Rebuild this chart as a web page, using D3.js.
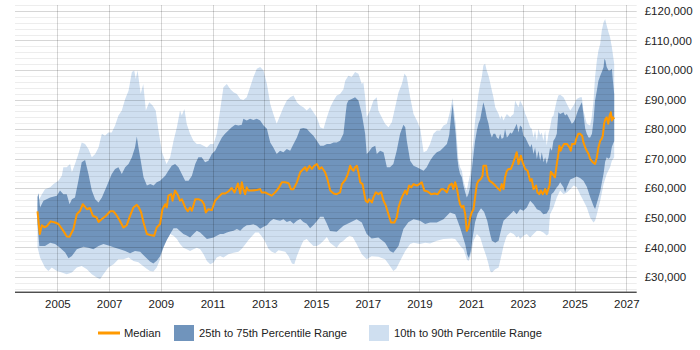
<!DOCTYPE html>
<html>
<head>
<meta charset="utf-8">
<script src="https://cdn.jsdelivr.net/npm/d3@7"></script>
<style>
  html, body { margin: 0; padding: 0; background: #fff; }
  #chart { width: 700px; height: 350px; }
  text { font-family: "Liberation Sans", Arial, sans-serif; fill: #222; }
</style>
</head>
<body>
<div id="chart"></div>
<script>
// values in £ thousands, [year, value]
const medianPts = [
  [2004.23,52.2],[2004.32,44.5],[2004.40,47.5],[2004.50,46.8],[2004.59,47.2],[2004.74,48.8],[2004.91,48.4],[2005.04,47.9],[2005.23,45.6],[2005.36,43.7],[2005.47,43.6],[2005.62,46.2],[2005.75,51.2],[2005.88,52.4],[2005.98,54.6],[2006.14,52.9],[2006.26,53.3],[2006.37,50.7],[2006.52,50.1],[2006.59,48.6],[2006.72,49.6],[2006.88,50.7],[2007.04,52.2],[2007.17,52.2],[2007.30,50.7],[2007.42,48.9],[2007.55,46.7],[2007.68,47.5],[2007.80,50.5],[2007.94,53.5],[2008.07,54.4],[2008.15,53.5],[2008.24,51.8],[2008.33,48.4],[2008.46,44.5],[2008.59,44.2],[2008.74,43.9],[2008.84,46.7],[2008.97,47.9],[2009.06,52.9],[2009.17,54.6],[2009.23,53.5],[2009.29,57.5],[2009.40,58.0],[2009.45,55.8],[2009.55,59.2],[2009.65,57.8],[2009.74,55.8],[2009.81,56.3],[2009.94,53.5],[2010.04,52.2],[2010.13,53.5],[2010.20,52.4],[2010.33,56.3],[2010.45,56.3],[2010.58,55.8],[2010.67,54.6],[2010.74,51.8],[2010.84,52.9],[2010.97,52.6],[2011.10,55.8],[2011.23,57.0],[2011.36,58.2],[2011.48,58.2],[2011.61,58.9],[2011.74,60.1],[2011.85,58.6],[2011.98,61.6],[2012.07,58.2],[2012.13,62.0],[2012.19,59.7],[2012.26,58.0],[2012.32,60.3],[2012.39,59.2],[2012.52,59.2],[2012.71,59.4],[2012.84,59.7],[2012.90,58.6],[2013.03,58.6],[2013.16,58.0],[2013.29,57.5],[2013.42,58.6],[2013.55,60.0],[2013.68,62.0],[2013.81,62.0],[2013.94,61.7],[2014.03,59.7],[2014.13,59.7],[2014.26,62.0],[2014.39,65.4],[2014.51,66.5],[2014.58,67.1],[2014.64,65.9],[2014.75,67.6],[2014.84,66.5],[2014.93,67.6],[2015.03,68.2],[2015.13,66.5],[2015.22,67.1],[2015.35,65.4],[2015.44,63.1],[2015.55,59.2],[2015.68,58.2],[2015.80,58.0],[2015.93,58.6],[2016.00,61.4],[2016.13,62.8],[2016.22,64.5],[2016.32,67.6],[2016.38,66.5],[2016.45,65.9],[2016.51,67.1],[2016.58,67.6],[2016.64,65.4],[2016.71,62.0],[2016.80,61.4],[2016.87,58.0],[2016.92,55.8],[2017.00,55.2],[2017.05,56.3],[2017.16,55.2],[2017.22,56.9],[2017.31,58.6],[2017.41,58.0],[2017.52,58.6],[2017.61,55.8],[2017.70,54.1],[2017.80,51.2],[2017.90,48.4],[2018.03,48.4],[2018.12,50.1],[2018.19,53.5],[2018.29,56.3],[2018.38,58.0],[2018.45,59.2],[2018.51,58.0],[2018.60,60.9],[2018.68,60.3],[2018.77,61.4],[2018.90,60.9],[2018.99,61.4],[2019.09,62.0],[2019.19,59.2],[2019.32,58.9],[2019.45,58.0],[2019.58,58.2],[2019.71,58.0],[2019.84,59.7],[2019.93,59.7],[2020.06,58.6],[2020.15,60.9],[2020.25,61.6],[2020.31,59.7],[2020.38,62.0],[2020.44,60.3],[2020.51,56.9],[2020.57,54.6],[2020.64,53.5],[2020.70,54.1],[2020.77,51.2],[2020.83,45.6],[2020.89,46.7],[2020.96,50.1],[2021.02,51.8],[2021.09,52.9],[2021.15,56.9],[2021.22,61.4],[2021.28,62.5],[2021.37,63.1],[2021.44,64.2],[2021.47,67.6],[2021.58,67.6],[2021.63,64.2],[2021.71,62.5],[2021.80,62.0],[2021.93,60.9],[2022.06,59.7],[2022.12,59.2],[2022.18,61.4],[2022.25,59.7],[2022.31,63.7],[2022.38,65.9],[2022.44,66.5],[2022.53,66.5],[2022.61,68.2],[2022.70,70.5],[2022.76,72.2],[2022.83,68.2],[2022.92,71.0],[2022.99,68.8],[2023.09,66.5],[2023.18,65.9],[2023.28,62.5],[2023.34,63.1],[2023.41,59.7],[2023.51,60.9],[2023.56,58.6],[2023.64,58.0],[2023.69,59.2],[2023.77,58.0],[2023.86,59.7],[2023.92,58.0],[2024.03,61.0],[2024.08,65.6],[2024.15,64.8],[2024.24,63.7],[2024.31,68.2],[2024.37,71.6],[2024.41,74.4],[2024.46,72.7],[2024.51,73.8],[2024.59,75.0],[2024.70,75.0],[2024.80,73.8],[2024.85,72.7],[2024.90,75.0],[2025.01,75.0],[2025.06,76.7],[2025.14,78.4],[2025.21,78.4],[2025.29,77.8],[2025.34,75.5],[2025.41,73.8],[2025.47,72.7],[2025.54,71.6],[2025.60,69.9],[2025.70,68.8],[2025.79,68.2],[2025.86,70.5],[2025.92,73.8],[2025.99,76.1],[2026.05,76.7],[2026.09,77.8],[2026.14,81.8],[2026.19,83.4],[2026.24,84.0],[2026.30,81.8],[2026.35,84.6],[2026.40,85.7],[2026.44,82.9],[2026.48,84.0],[2026.53,83.4]
];

const p75Pts = [
  [2004.23,57.0],[2004.27,58.3],[2004.33,53.5],[2004.46,55.8],[2004.72,56.9],[2004.98,57.5],[2005.10,59.2],[2005.23,58.0],[2005.36,58.0],[2005.47,54.6],[2005.56,56.3],[2005.68,56.9],[2005.81,62.5],[2005.94,68.8],[2006.07,69.6],[2006.20,64.8],[2006.33,59.2],[2006.46,56.3],[2006.59,55.2],[2006.72,56.9],[2006.91,60.8],[2007.10,64.8],[2007.23,66.5],[2007.36,67.1],[2007.49,64.8],[2007.62,67.1],[2007.75,68.2],[2007.88,70.5],[2008.00,73.8],[2008.07,77.5],[2008.13,74.0],[2008.20,70.5],[2008.33,63.7],[2008.46,60.9],[2008.59,61.4],[2008.72,60.9],[2008.84,62.0],[2008.97,62.5],[2009.17,64.2],[2009.29,65.9],[2009.42,67.6],[2009.55,68.2],[2009.68,67.1],[2009.81,64.8],[2009.94,62.5],[2010.07,62.5],[2010.20,64.2],[2010.33,68.2],[2010.45,70.5],[2010.58,70.5],[2010.71,68.8],[2010.84,69.3],[2010.97,71.6],[2011.10,72.7],[2011.23,75.0],[2011.36,77.2],[2011.48,78.4],[2011.61,79.5],[2011.74,80.6],[2011.87,81.5],[2012.00,81.2],[2012.13,81.5],[2012.19,83.5],[2012.32,82.9],[2012.45,83.5],[2012.58,83.1],[2012.71,83.5],[2012.84,82.9],[2012.97,81.2],[2013.10,80.1],[2013.23,75.5],[2013.35,73.8],[2013.48,71.6],[2013.61,72.7],[2013.74,72.2],[2013.87,73.3],[2014.00,72.7],[2014.13,75.0],[2014.26,77.2],[2014.39,80.1],[2014.51,80.4],[2014.64,80.1],[2014.77,78.9],[2014.90,77.8],[2015.03,76.1],[2015.16,74.4],[2015.29,74.4],[2015.42,75.0],[2015.55,75.0],[2015.68,75.5],[2015.80,75.5],[2015.93,76.1],[2016.06,78.4],[2016.13,84.0],[2016.19,88.5],[2016.25,89.7],[2016.38,90.2],[2016.51,90.8],[2016.64,89.7],[2016.77,85.1],[2016.90,78.4],[2016.96,71.6],[2017.03,72.2],[2017.16,73.8],[2017.29,74.4],[2017.35,71.6],[2017.48,72.7],[2017.61,72.2],[2017.74,67.1],[2017.86,67.1],[2017.99,68.2],[2018.12,72.7],[2018.25,78.4],[2018.38,81.5],[2018.45,80.6],[2018.51,76.1],[2018.64,69.3],[2018.77,67.6],[2018.90,67.1],[2019.03,66.5],[2019.16,65.9],[2019.28,67.1],[2019.41,69.3],[2019.54,71.0],[2019.67,72.2],[2019.80,72.7],[2019.93,73.8],[2020.06,75.0],[2020.15,78.0],[2020.22,84.0],[2020.28,88.5],[2020.33,84.0],[2020.40,78.4],[2020.46,70.5],[2020.51,67.1],[2020.57,64.8],[2020.64,63.7],[2020.70,60.9],[2020.77,58.6],[2020.83,56.9],[2020.89,58.0],[2020.96,60.3],[2021.02,65.9],[2021.09,71.6],[2021.15,76.1],[2021.22,79.5],[2021.28,81.8],[2021.35,83.4],[2021.41,86.3],[2021.47,89.1],[2021.54,86.8],[2021.60,84.0],[2021.67,81.8],[2021.73,78.9],[2021.80,77.2],[2021.86,78.4],[2021.93,78.4],[2021.99,77.2],[2022.06,76.7],[2022.12,78.4],[2022.18,76.7],[2022.25,77.2],[2022.31,80.1],[2022.38,77.2],[2022.44,77.8],[2022.51,78.9],[2022.57,78.4],[2022.64,79.5],[2022.70,80.6],[2022.76,81.8],[2022.83,78.9],[2022.89,81.2],[2022.96,80.6],[2023.02,77.8],[2023.09,77.2],[2023.15,76.1],[2023.21,75.0],[2023.28,73.8],[2023.34,75.0],[2023.41,71.6],[2023.47,73.8],[2023.54,69.9],[2023.60,72.7],[2023.67,69.3],[2023.73,72.2],[2023.80,68.8],[2023.86,70.5],[2023.92,68.2],[2023.99,70.5],[2024.05,73.8],[2024.12,72.7],[2024.18,76.1],[2024.25,77.0],[2024.31,78.4],[2024.37,85.7],[2024.44,85.1],[2024.57,85.7],[2024.63,84.6],[2024.70,85.1],[2024.83,82.9],[2024.89,81.8],[2024.96,82.3],[2025.02,83.4],[2025.08,85.1],[2025.15,86.8],[2025.21,87.9],[2025.28,89.1],[2025.34,85.1],[2025.41,80.1],[2025.47,78.4],[2025.54,77.2],[2025.60,77.2],[2025.67,78.4],[2025.73,82.9],[2025.79,89.7],[2025.86,93.1],[2025.92,96.4],[2025.99,98.1],[2026.05,99.3],[2026.12,101.0],[2026.15,103.8],[2026.19,103.2],[2026.24,101.0],[2026.31,99.8],[2026.37,99.8],[2026.44,100.4],[2026.48,96.4],[2026.53,91.9]
];

const p25Pts = [
  [2004.23,48.0],[2004.30,40.5],[2004.52,40.5],[2004.72,41.6],[2004.91,41.1],[2005.10,39.9],[2005.30,38.3],[2005.43,36.3],[2005.56,37.1],[2005.75,39.4],[2006.01,40.2],[2006.20,39.9],[2006.39,39.4],[2006.59,40.5],[2006.78,41.1],[2007.04,40.5],[2007.23,39.9],[2007.42,39.4],[2007.62,38.8],[2007.81,38.0],[2008.00,38.8],[2008.20,38.5],[2008.39,36.8],[2008.58,35.2],[2008.71,34.5],[2008.84,35.5],[2008.97,37.0],[2009.10,40.0],[2009.23,42.5],[2009.36,44.5],[2009.49,46.5],[2009.62,46.5],[2009.74,45.5],[2009.87,44.5],[2010.00,44.0],[2010.13,43.3],[2010.26,44.5],[2010.39,45.6],[2010.52,45.0],[2010.65,43.9],[2010.78,42.8],[2010.91,43.1],[2011.04,43.3],[2011.16,43.9],[2011.29,44.5],[2011.42,44.5],[2011.55,45.0],[2011.68,45.4],[2011.81,45.6],[2011.94,46.2],[2012.07,45.6],[2012.19,46.7],[2012.32,47.5],[2012.45,47.6],[2012.58,47.8],[2012.71,47.3],[2012.84,46.3],[2012.97,47.0],[2013.10,47.5],[2013.23,48.8],[2013.35,49.6],[2013.48,49.3],[2013.61,49.0],[2013.74,49.5],[2013.87,48.6],[2014.00,49.0],[2014.13,48.0],[2014.26,49.0],[2014.39,49.6],[2014.51,48.6],[2014.64,48.0],[2014.77,46.5],[2014.90,47.6],[2015.03,48.8],[2015.16,50.4],[2015.29,50.4],[2015.42,48.0],[2015.54,45.5],[2015.80,45.3],[2016.06,47.3],[2016.32,48.4],[2016.57,49.5],[2016.77,48.4],[2016.96,44.5],[2017.15,43.0],[2017.41,43.3],[2017.67,41.6],[2017.86,38.8],[2017.99,38.2],[2018.19,40.5],[2018.38,46.2],[2018.57,48.5],[2018.77,49.5],[2019.02,49.0],[2019.22,47.9],[2019.41,48.4],[2019.67,48.4],[2019.93,49.5],[2020.18,51.8],[2020.38,51.2],[2020.57,46.7],[2020.70,43.0],[2020.77,41.0],[2020.85,37.5],[2020.91,36.5],[2020.98,38.5],[2021.06,43.5],[2021.15,48.5],[2021.25,51.5],[2021.38,53.2],[2021.50,52.0],[2021.62,49.0],[2021.73,44.5],[2021.80,42.2],[2021.93,41.6],[2022.06,42.2],[2022.12,44.5],[2022.18,46.7],[2022.25,49.0],[2022.38,50.1],[2022.51,51.2],[2022.64,52.4],[2022.76,51.2],[2022.89,52.9],[2023.02,52.4],[2023.15,53.5],[2023.28,55.8],[2023.41,54.6],[2023.54,52.9],[2023.67,52.4],[2023.79,51.2],[2023.92,51.5],[2024.02,53.0],[2024.10,58.0],[2024.18,58.6],[2024.31,60.3],[2024.37,60.9],[2024.44,62.0],[2024.57,60.3],[2024.63,58.6],[2024.70,60.3],[2024.83,63.0],[2024.96,63.5],[2025.08,64.0],[2025.21,63.5],[2025.34,62.5],[2025.47,60.5],[2025.60,57.0],[2025.73,54.0],[2025.79,53.0],[2025.86,55.0],[2025.99,59.0],[2026.12,65.0],[2026.18,69.0],[2026.24,70.5],[2026.31,70.0],[2026.37,70.5],[2026.44,74.0],[2026.53,76.0]
];

const p90Pts = [
  [2004.23,55.0],[2004.27,55.8],[2004.40,58.0],[2004.52,59.7],[2004.72,60.3],[2004.85,61.4],[2005.04,62.5],[2005.17,64.2],[2005.23,67.1],[2005.36,67.1],[2005.49,68.2],[2005.56,65.4],[2005.68,68.2],[2005.81,71.6],[2005.94,75.5],[2006.07,75.0],[2006.20,73.3],[2006.33,70.5],[2006.46,71.6],[2006.59,73.8],[2006.72,78.4],[2006.84,77.8],[2006.97,78.9],[2007.10,78.9],[2007.23,81.2],[2007.36,84.6],[2007.49,86.3],[2007.62,90.2],[2007.75,93.0],[2007.88,99.3],[2007.97,99.8],[2008.03,97.0],[2008.10,99.8],[2008.22,92.0],[2008.32,95.3],[2008.42,86.3],[2008.55,89.1],[2008.68,88.0],[2008.80,86.3],[2008.90,80.0],[2009.05,72.0],[2009.22,68.2],[2009.36,70.5],[2009.49,76.1],[2009.62,80.6],[2009.74,86.3],[2009.81,84.6],[2009.91,86.8],[2010.00,81.7],[2010.13,78.4],[2010.26,76.1],[2010.39,75.0],[2010.52,75.0],[2010.65,74.4],[2010.78,73.8],[2010.91,75.0],[2011.04,75.0],[2011.16,78.4],[2011.29,86.3],[2011.42,94.2],[2011.55,95.3],[2011.68,93.6],[2011.81,92.5],[2011.94,91.9],[2012.07,90.2],[2012.19,89.9],[2012.32,90.8],[2012.45,94.2],[2012.58,97.6],[2012.71,100.4],[2012.84,101.0],[2012.97,99.8],[2013.10,95.3],[2013.23,88.5],[2013.35,85.1],[2013.48,81.8],[2013.61,84.6],[2013.74,87.4],[2013.87,89.7],[2014.00,90.8],[2014.13,91.4],[2014.26,89.1],[2014.39,88.0],[2014.51,87.4],[2014.64,86.3],[2014.77,87.4],[2014.90,85.7],[2015.03,84.0],[2015.16,80.6],[2015.29,80.1],[2015.42,84.0],[2015.55,87.4],[2015.68,89.7],[2015.80,91.4],[2015.93,91.9],[2016.06,93.5],[2016.13,96.4],[2016.25,98.1],[2016.38,97.6],[2016.51,99.3],[2016.64,98.7],[2016.77,95.3],[2016.83,95.9],[2016.90,90.8],[2016.96,84.0],[2017.09,86.3],[2017.22,89.7],[2017.35,90.8],[2017.41,86.3],[2017.54,84.0],[2017.67,81.8],[2017.80,80.6],[2017.93,82.3],[2018.06,87.4],[2018.19,92.5],[2018.32,95.3],[2018.42,98.8],[2018.51,97.6],[2018.64,90.8],[2018.77,85.1],[2018.90,82.9],[2019.03,80.1],[2019.16,72.2],[2019.28,72.7],[2019.41,75.0],[2019.54,78.4],[2019.67,79.5],[2019.80,79.5],[2019.93,81.2],[2020.06,81.8],[2020.19,86.3],[2020.28,90.5],[2020.34,86.0],[2020.40,82.0],[2020.46,75.0],[2020.51,69.3],[2020.57,67.1],[2020.64,65.9],[2020.70,62.5],[2020.77,60.3],[2020.83,59.2],[2020.89,62.0],[2020.96,64.8],[2021.02,71.6],[2021.09,76.1],[2021.15,82.9],[2021.22,87.4],[2021.28,91.9],[2021.35,95.3],[2021.41,97.6],[2021.47,101.5],[2021.54,102.1],[2021.60,99.8],[2021.67,98.1],[2021.73,95.9],[2021.80,93.1],[2021.86,90.8],[2021.93,87.4],[2021.99,86.3],[2022.06,85.1],[2022.12,83.4],[2022.18,84.6],[2022.25,82.9],[2022.31,84.0],[2022.38,85.1],[2022.44,84.6],[2022.51,84.0],[2022.57,84.6],[2022.64,85.1],[2022.70,89.7],[2022.76,88.5],[2022.83,87.4],[2022.89,89.7],[2022.96,88.5],[2023.02,87.4],[2023.09,85.1],[2023.15,84.0],[2023.28,80.6],[2023.34,80.1],[2023.41,77.2],[2023.47,79.5],[2023.54,76.1],[2023.60,80.1],[2023.67,78.0],[2023.73,78.9],[2023.79,76.1],[2023.86,79.5],[2023.92,74.5],[2023.99,78.4],[2024.05,80.6],[2024.12,84.0],[2024.18,84.5],[2024.25,87.4],[2024.31,89.7],[2024.37,91.4],[2024.44,91.6],[2024.57,90.8],[2024.70,88.5],[2024.83,86.3],[2024.96,88.0],[2025.02,89.1],[2025.08,90.2],[2025.21,90.8],[2025.28,90.8],[2025.34,86.3],[2025.47,81.8],[2025.60,81.2],[2025.66,84.0],[2025.73,89.7],[2025.79,97.6],[2025.86,103.2],[2025.92,106.6],[2025.99,108.9],[2026.05,113.4],[2026.12,116.2],[2026.18,117.3],[2026.24,115.1],[2026.31,112.8],[2026.37,111.1],[2026.44,107.7],[2026.53,102.1]
];

const p10Pts = [
  [2004.23,40.0],[2004.33,36.6],[2004.52,33.2],[2004.65,32.0],[2004.78,33.2],[2004.98,32.0],[2005.17,31.5],[2005.36,30.9],[2005.56,31.5],[2005.75,33.2],[2005.94,33.7],[2006.14,32.6],[2006.33,30.9],[2006.52,29.8],[2006.65,29.2],[2006.78,30.9],[2006.97,33.2],[2007.17,34.3],[2007.36,36.0],[2007.55,36.0],[2007.75,36.6],[2007.94,35.4],[2008.13,35.0],[2008.30,33.8],[2008.45,32.8],[2008.58,32.0],[2008.71,31.8],[2008.84,33.2],[2008.97,36.0],[2009.10,39.9],[2009.23,42.8],[2009.36,44.5],[2009.49,43.9],[2009.62,42.8],[2009.74,41.1],[2009.87,39.9],[2010.00,39.4],[2010.13,38.8],[2010.26,39.4],[2010.39,39.9],[2010.52,39.4],[2010.65,37.7],[2010.78,35.4],[2010.91,34.3],[2011.04,34.9],[2011.16,36.6],[2011.29,37.1],[2011.42,36.6],[2011.61,37.7],[2011.81,38.2],[2012.00,38.5],[2012.13,39.5],[2012.26,41.0],[2012.39,42.5],[2012.52,43.8],[2012.65,45.0],[2012.78,45.0],[2012.90,43.8],[2013.03,42.0],[2013.16,39.5],[2013.29,38.5],[2013.42,38.0],[2013.55,39.0],[2013.68,38.8],[2013.81,38.5],[2013.94,37.0],[2014.07,34.5],[2014.16,34.3],[2014.26,37.1],[2014.39,39.9],[2014.51,42.2],[2014.64,42.8],[2014.77,41.6],[2014.90,40.5],[2015.03,40.5],[2015.16,41.1],[2015.29,42.2],[2015.42,43.5],[2015.54,41.6],[2015.70,40.5],[2015.80,39.9],[2015.93,41.5],[2016.06,42.2],[2016.19,43.3],[2016.30,43.9],[2016.42,43.5],[2016.57,41.1],[2016.77,37.7],[2016.96,36.0],[2017.15,37.0],[2017.41,36.8],[2017.67,36.0],[2017.86,33.7],[2017.99,32.0],[2018.10,32.8],[2018.25,35.4],[2018.45,38.8],[2018.64,41.1],[2018.77,41.6],[2019.02,41.1],[2019.22,41.6],[2019.41,41.3],[2019.67,42.2],[2019.93,42.8],[2020.25,43.0],[2020.38,42.8],[2020.50,41.5],[2020.60,40.2],[2020.70,39.4],[2020.77,37.7],[2020.83,36.0],[2020.89,35.4],[2020.96,36.6],[2021.02,38.8],[2021.09,42.2],[2021.22,44.5],[2021.35,43.3],[2021.47,39.9],[2021.60,36.6],[2021.67,34.3],[2021.73,32.0],[2021.80,31.5],[2021.86,32.0],[2021.93,32.6],[2022.06,33.2],[2022.12,35.4],[2022.18,37.7],[2022.25,40.5],[2022.31,42.2],[2022.38,43.9],[2022.51,45.0],[2022.64,44.5],[2022.76,43.3],[2022.83,43.9],[2022.89,42.8],[2023.02,43.9],[2023.15,44.5],[2023.28,43.3],[2023.41,44.5],[2023.54,45.6],[2023.67,45.5],[2023.79,45.0],[2023.92,44.0],[2023.99,44.5],[2024.05,51.2],[2024.18,53.5],[2024.31,56.9],[2024.44,59.2],[2024.57,58.0],[2024.70,58.6],[2024.83,59.7],[2024.96,60.9],[2025.08,60.3],[2025.21,58.0],[2025.34,55.8],[2025.47,53.5],[2025.60,50.1],[2025.73,48.4],[2025.79,49.0],[2025.86,51.2],[2025.99,55.8],[2026.12,61.4],[2026.24,64.8],[2026.37,67.1],[2026.44,69.3],[2026.53,70.5]
];

const yearTicks = [2005, 2007, 2009, 2011, 2013, 2015, 2017, 2019, 2021, 2023, 2025, 2027];
const salaryTicks = [30, 40, 50, 60, 70, 80, 90, 100, 110, 120];
const legendItems = ["Median", "25th to 75th Percentile Range", "10th to 90th Percentile Range"];

const width = 700, height = 350;
const plot = { left: 15, right: 636.7, top: 5, bottom: 291.7 };

const colMedian = "#ff9900";
const colDark = "#7094bc";
const colLight = "#cfdff0";
const fontFam = '"Liberation Sans", Arial, sans-serif';

const svg = d3.select("#chart").append("svg")
  .attr("width", width)
  .attr("height", height);

const x = d3.scaleLinear().domain([2003.36, 2027.4]).range([plot.left, plot.right]);
const y = d3.scaleLinear().domain([25, 122]).range([plot.bottom, plot.top]);

// band = top series forward + bottom series backward, closed polygon
const line = d3.line().x(d => x(d[0])).y(d => y(d[1]));
function bandPath(top, bottom) {
  return line(top.concat(bottom.slice().reverse())) + "Z";
}

svg.append("path").attr("d", bandPath(p90Pts, p10Pts)).attr("fill", colLight);
svg.append("path").attr("d", bandPath(p75Pts, p25Pts)).attr("fill", colDark);

// gridlines sit over the bands, semi transparent
const grid = svg.append("g");
const minorVals = d3.range(26, 123, 2);
grid.selectAll("line.h")
  .data(minorVals)
  .join("line")
  .attr("x1", plot.left).attr("x2", plot.right)
  .attr("y1", d => Math.round(y(d)) + 0.5).attr("y2", d => Math.round(y(d)) + 0.5)
  .attr("stroke", d => d % 10 === 0 ? "rgba(0,0,0,0.16)" : "rgba(0,0,0,0.07)")
  .attr("stroke-width", 1);

grid.selectAll("line.v")
  .data(yearTicks)
  .join("line")
  .attr("x1", d => Math.round(x(d)) + 0.5).attr("x2", d => Math.round(x(d)) + 0.5)
  .attr("y1", plot.top).attr("y2", plot.bottom)
  .attr("stroke", "rgba(0,0,0,0.16)")
  .attr("stroke-width", 1);

svg.append("path")
  .datum(medianPts)
  .attr("d", line)
  .attr("fill", "none")
  .attr("stroke", colMedian)
  .attr("stroke-width", 2)
  .attr("stroke-linejoin", "round");

// bottom axis
const xAxis = svg.append("g")
  .attr("transform", `translate(0,${plot.bottom})`)
  .call(d3.axisBottom(x).tickValues(yearTicks).tickFormat(d3.format("d")).tickSize(0).tickPadding(8));
xAxis.select(".domain").attr("stroke", "#000").attr("d", `M${plot.left},0.5H${plot.right}`);
xAxis.selectAll("text").attr("font-size", 11.5).attr("fill", "#222").style("font-family", fontFam);

// right axis labels
const yAxis = svg.append("g")
  .attr("transform", `translate(${plot.right},0)`)
  .call(d3.axisRight(y).tickValues(salaryTicks)
    .tickFormat(d => "£" + d3.format(",")(d * 1000)).tickSize(0).tickPadding(8));
yAxis.select(".domain").remove();
yAxis.selectAll("text").attr("font-size", 11.5).attr("fill", "#222").style("font-family", fontFam);

// legend
const lg = svg.append("g").attr("transform", "translate(0,333)");
lg.append("line").attr("x1", 98).attr("x2", 120).attr("y1", 0).attr("y2", 0)
  .attr("stroke", colMedian).attr("stroke-width", 3);
lg.append("text").attr("x", 124).attr("y", 4).attr("font-size", 11.2).text(legendItems[0]);
lg.append("rect").attr("x", 174).attr("y", -8).attr("width", 20).attr("height", 16).attr("fill", colDark);
lg.append("text").attr("x", 199).attr("y", 4).attr("font-size", 11.2).text(legendItems[1]);
lg.append("rect").attr("x", 369).attr("y", -8).attr("width", 20).attr("height", 16).attr("fill", colLight);
lg.append("text").attr("x", 394).attr("y", 4).attr("font-size", 11.2).text(legendItems[2]);
</script>
</body>
</html>
